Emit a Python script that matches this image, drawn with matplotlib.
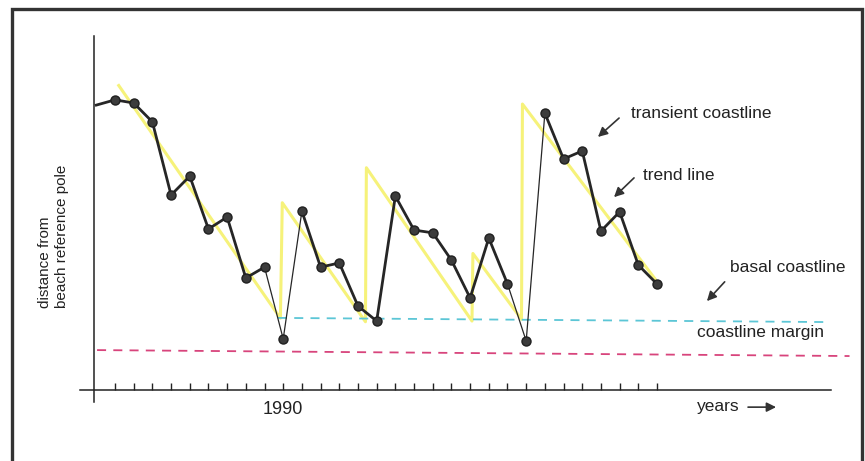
import numpy as np
import matplotlib.pyplot as plt
from matplotlib.patches import Rectangle

plt.rcParams['font.family'] = ['Liberation Sans', 'DejaVu Sans']

# yearly survey index (tick positions), index 9 = 1990
years = np.arange(-1, 30)
year_labels = {9: '1990'}

# measured coastline (distance from beach reference pole, arbitrary units)
coast = [81.4, 82.9, 82.0, 76.6, 55.7, 61.1, 46.0, 49.4, 32.0, 35.1, 14.6,
         51.1, 35.1, 36.3, 24.0, 19.7, 55.4, 45.7, 44.9, 37.1, 26.3,
         43.4, 30.3, 14.0, 79.1, 66.0, 68.3, 45.4, 50.9, 35.7, 30.3]
# storm years where the coastline dropped below the basal line
storm_idx = [9, 22]

# trend line (sawtooth)
trend_x = [0.2, 8.85, 8.95, 13.4, 13.45, 19.1, 19.15, 21.75, 21.8, 28.9]
trend_y = [87.0, 20.5, 53.5, 19.5, 63.5, 19.7, 39.0, 20.2, 81.7, 31.7]

# basal coastline and coastline margin
basal_x = [8.72, 38.25]
basal_y = [20.6, 19.4]
margin_x = [-0.96, 39.3]
margin_y = [11.4, 9.7]

fig = plt.figure(figsize=(8.65, 4.61), dpi=100)
ax = fig.add_axes([0, 0, 1, 1])
ax.set_xlim(-6.153, 40.128)
ax.set_ylim(-20.29, 111.43)
ax.patch.set_alpha(0)

# axes through spines
ax.spines['top'].set_visible(False)
ax.spines['right'].set_visible(False)
ax.spines['left'].set_position(('data', -1.12))
ax.spines['left'].set_bounds(-3.4, 101.1)
ax.spines['bottom'].set_position(('data', 0))
ax.spines['bottom'].set_bounds(-1.87, 38.3)
for s in ('left', 'bottom'):
    ax.spines[s].set_linewidth(1.1)
    ax.spines[s].set_color('#222222')
ax.set_yticks([])
ticks = years[1:]
ax.set_xticks(ticks)
ax.set_xticklabels([year_labels.get(t, '') for t in ticks], fontsize=13,
                   color='#222222')
ax.tick_params(axis='x', direction='in', length=5.2, width=1.0,
               color='#222222', pad=8)

# lines
ax.plot(trend_x, trend_y, color='#f6f27a', lw=2.2, zorder=2)
ax.plot(basal_x, basal_y, color='#5cc6d6', lw=1.3, ls=(0, (5, 4)), zorder=2)
ax.plot(margin_x, margin_y, color='#d8447c', lw=1.3, ls=(0, (5, 4)), zorder=2)

xs = years
ys = np.array(coast)
start = 0
for i in storm_idx:
    k = i + 1  # offset since years start at -1
    ax.plot(xs[start:k], ys[start:k], color='#262626', lw=2.0, zorder=3)
    ax.plot(xs[k - 1:k + 2], ys[k - 1:k + 2], color='#262626', lw=0.9, zorder=3)
    start = k + 1
ax.plot(xs[start:], ys[start:], color='#262626', lw=2.0, zorder=3)
ax.plot(xs[1:], ys[1:], 'o', color='#3c3c3c', mec='#202020', ms=6.5, zorder=4)

# labels
tc = '#222222'
ax.text(27.6, 79.1, 'transient coastline', fontsize=12.5, color=tc, va='center')
ax.text(28.25, 61.4, 'trend line', fontsize=12.5, color=tc, va='center')
ax.text(32.9, 34.9, 'basal coastline', fontsize=12.5, color=tc, va='center')
ax.text(31.14, 16.3, 'coastline margin', fontsize=12.5, color=tc, va='center')
ax.text(32.26, -4.6, 'years', fontsize=12.5, color=tc, va='center', ha='center')
ax.text(-3.29, 23.4, 'distance from\nbeach reference pole', fontsize=11,
        color=tc, rotation=90, ha='center', va='bottom',
        multialignment='left', linespacing=1.25)

arr = dict(arrowstyle='-|>', color='#333333', lw=1.2, mutation_scale=14,
           shrinkA=0, shrinkB=0)
for tail, head in [((26.97, 77.7), (25.84, 72.3)),
                   ((27.77, 60.6), (26.70, 55.1)),
                   ((32.62, 30.9), (31.67, 25.4)),
                   ((33.87, -4.9), (35.37, -4.9))]:
    ax.annotate('', xy=head, xytext=tail, arrowprops=arr)

# frame around the figure
fig.patches.append(Rectangle((12 / 865, -0.05), 850 / 865, 1.05 - 9 / 461,
                             transform=fig.transFigure, fill=False,
                             lw=2.4, edgecolor='#333333'))

fig.savefig('out.png', dpi=100)
